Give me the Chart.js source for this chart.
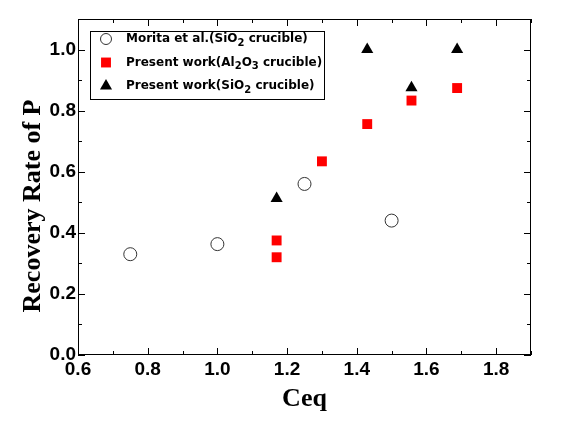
<!DOCTYPE html>
<html>
<head>
<meta charset="utf-8">
<script src="https://cdn.jsdelivr.net/npm/chart.js@4.4.1/dist/chart.umd.min.js"></script>
<style>
  html, body { margin: 0; padding: 0; background: #fff; }
  #wrap { width: 561px; height: 430px; position: relative; }
</style>
</head>
<body>
<div id="wrap"><canvas id="chart"></canvas></div>
<script>
// data
const moritaX = [0.75, 1.0, 1.25, 1.5];
const moritaY = [0.33, 0.363, 0.56, 0.44];
const al2o3X = [1.17, 1.17, 1.30, 1.43, 1.557, 1.688];
const al2o3Y = [0.375, 0.32, 0.634, 0.756, 0.833, 0.874];
const sio2X = [1.17, 1.43, 1.557, 1.688];
const sio2Y = [0.512, 1.0, 0.875, 1.0];

const seriesNames = ['Morita et al.(SiO₂ crucible)', 'Present work(Al₂O₃ crucible)', 'Present work(SiO₂ crucible)'];
const xTicks = [0.6, 0.8, 1.0, 1.2, 1.4, 1.6, 1.8];
const yTicks = [0.0, 0.2, 0.4, 0.6, 0.8, 1.0];
const yTitle = 'Recovery Rate of P';

const toPoints = (xs, ys) => xs.map((x, i) => ({ x: x, y: ys[i] }));

// inner tick marks on all four sides + frame
const frame = {
  id: 'frame',
  afterDraw(chart) {
    const { ctx, chartArea: a, scales: { x, y } } = chart;
    ctx.save();
    ctx.strokeStyle = '#000';
    ctx.lineWidth = 1;
    ctx.strokeRect(a.left + 0.5, a.top + 0.5, a.right - a.left - 1, a.bottom - a.top - 1);
    ctx.beginPath();
    for (let i = 6; i <= 19; i++) {
      const px = Math.round(x.getPixelForValue(i / 10)) + 0.5;
      const len = i % 2 === 0 ? 7 : 4;
      ctx.moveTo(px, a.bottom); ctx.lineTo(px, a.bottom - len);
      ctx.moveTo(px, a.top); ctx.lineTo(px, a.top + len);
    }
    for (let i = 0; i <= 11; i++) {
      const py = Math.round(y.getPixelForValue(i / 10)) + 0.5;
      const len = i % 2 === 0 ? 7 : 4;
      ctx.moveTo(a.left, py); ctx.lineTo(a.left + len, py);
      ctx.moveTo(a.right, py); ctx.lineTo(a.right - len, py);
    }
    ctx.stroke();

    // y axis title, sits a bit below the plot centre in the original
    ctx.translate(33, 206);
    ctx.rotate(-Math.PI / 2);
    ctx.fillStyle = '#000';
    ctx.font = 'bold 26px "Liberation Serif"';
    ctx.textAlign = 'center';
    ctx.textBaseline = 'middle';
    ctx.fillText(yTitle, 0, 0);
    ctx.restore();
  }
};

// boxed legend inside the plot, with subscripts
const subMap = { '₂': '2', '₃': '3' };
const boxLegend = {
  id: 'boxLegend',
  afterDraw(chart) {
    const { ctx, chartArea: a } = chart;
    const bx = a.left + 12, by = a.top + 12, bw = 234, bh = 68;
    ctx.save();
    ctx.fillStyle = '#fff';
    ctx.fillRect(bx, by, bw, bh);
    ctx.strokeStyle = '#000';
    ctx.lineWidth = 1;
    ctx.strokeRect(bx + 0.5, by + 0.5, bw, bh);
    chart.data.datasets.forEach((ds, i) => {
      const cy = by + 8 + i * 23.5;
      ctx.fillStyle = ds.backgroundColor;
      ctx.strokeStyle = ds.borderColor;
      ctx.lineWidth = ds.borderWidth;
      Chart.helpers.drawPoint(ctx, {
        pointStyle: ds.pointStyle,
        radius: ds.pointStyle === 'circle' ? 5.5 : ds.pointRadius,
        borderWidth: ds.borderWidth
      }, bx + 16, cy);
      let tx = bx + 36;
      ctx.fillStyle = '#000';
      ctx.textBaseline = 'middle';
      for (const ch of ds.label) {
        if (subMap[ch]) {
          ctx.font = 'bold 10px "DejaVu Sans"';
          ctx.fillText(subMap[ch], tx, cy + 4);
          tx += ctx.measureText(subMap[ch]).width;
        } else {
          ctx.font = 'bold 12px "DejaVu Sans"';
          ctx.fillText(ch, tx, cy);
          tx += ctx.measureText(ch).width;
        }
      }
    });
    ctx.restore();
  }
};

const tickFont = { family: 'Liberation Sans', weight: 'bold', size: 19 };
const titleFont = { family: 'Liberation Serif', weight: 'bold', size: 26, lineHeight: 1 };

new Chart(document.getElementById('chart'), {
  type: 'scatter',
  data: {
    datasets: [
      {
        label: seriesNames[0],
        data: toPoints(moritaX, moritaY),
        pointStyle: 'circle', pointRadius: 6.5, pointHoverRadius: 6.5,
        backgroundColor: '#fff', borderColor: '#333', borderWidth: 1
      },
      {
        label: seriesNames[1],
        data: toPoints(al2o3X, al2o3Y),
        pointStyle: 'rect', pointRadius: 7, pointHoverRadius: 7,
        backgroundColor: '#ff0000', borderColor: '#ff0000', borderWidth: 0
      },
      {
        label: seriesNames[2],
        data: toPoints(sio2X, sio2Y),
        pointStyle: 'triangle', pointRadius: 7, pointHoverRadius: 7,
        backgroundColor: '#000', borderColor: '#000', borderWidth: 0
      }
    ]
  },
  options: {
    responsive: true,
    maintainAspectRatio: false,
    animation: false,
    layout: { padding: { top: 19, right: 30, left: 0, bottom: 0 } },
    plugins: { legend: { display: false }, tooltip: { enabled: false } },
    scales: {
      x: {
        type: 'linear', min: 0.6, max: 1.9,
        afterBuildTicks: s => { s.ticks = xTicks.map(v => ({ value: v })); },
        afterFit: s => { s.height = 75; },
        grid: { display: false, drawTicks: false },
        border: { display: false },
        ticks: { font: tickFont, color: '#000', padding: 3, maxRotation: 0, callback: v => v.toFixed(1) },
        title: { display: true, text: 'Ceq', font: titleFont, color: '#000', padding: { top: 18, bottom: 18 } }
      },
      y: {
        type: 'linear', min: 0, max: 1.1,
        afterBuildTicks: s => { s.ticks = yTicks.map(v => ({ value: v })); },
        afterFit: s => { s.width = 78; },
        grid: { display: false, drawTicks: false },
        border: { display: false },
        ticks: { font: tickFont, color: '#000', padding: 2, callback: v => v.toFixed(1) },
        title: { display: false }
      }
    }
  },
  plugins: [frame, boxLegend]
});
</script>
</body>
</html>
